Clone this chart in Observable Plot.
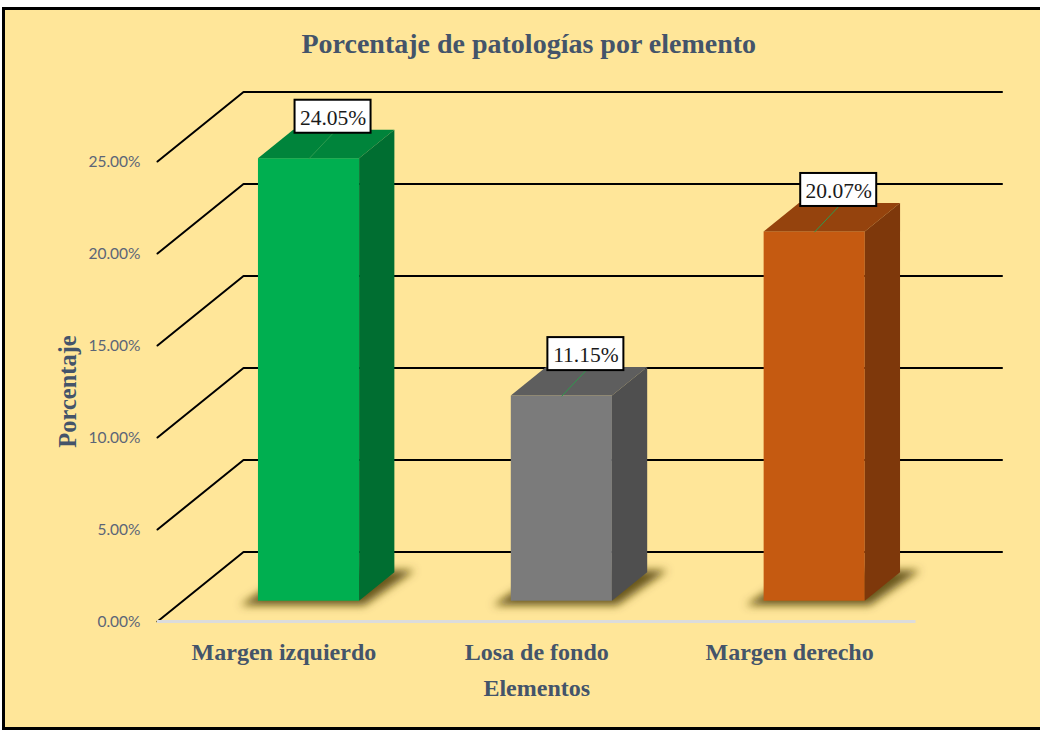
<!DOCTYPE html>
<html><head><meta charset="utf-8">
<script src="https://cdn.jsdelivr.net/npm/d3@7"></script>
<script src="https://cdn.jsdelivr.net/npm/@observablehq/plot@0.6"></script>
<style>
html,body{margin:0;padding:0;background:#fff;overflow:hidden;width:1040px;height:731px;}
#frame{position:absolute;left:2px;top:7px;width:1100px;height:717px;border:3px solid #000;background:#FFE699;}
#chart{position:absolute;left:0;top:0;}
#chart svg{background:transparent;}
</style></head><body>
<div id="frame"></div>
<div id="chart"></div>
<script>
// ---- data ----
const categories = ["Margen izquierdo", "Losa de fondo", "Margen derecho"];
const values = [24.05, 11.15, 20.07];
const valueLabels = ["24.05%", "11.15%", "20.07%"];
const yTicks = [0, 5, 10, 15, 20, 25];
const yTickLabels = ["0.00%", "5.00%", "10.00%", "15.00%", "20.00%", "25.00%"];
const frontColors = ["#00AF50", "#7B7B7B", "#C55A11"];
const topColors = ["#00843B", "#5E5E5E", "#95430D"];
const sideColors = ["#006E31", "#4F4F4F", "#7E380B"];
const title = "Porcentaje de patologías por elemento";
const xTitle = "Elementos";
const yTitle = "Porcentaje";

// ---- 3D geometry (data units) ----
const DX = 0.3402, DY = 3.777;     // full depth of the chart floor
const fF = 0.292, fB = 0.702;      // bar front / back depth fractions
const HW = 0.2;                     // half width of a bar
const fx = fF * DX, fy = fF * DY;
const bx = (fB - fF) * DX, by = (fB - fF) * DY;
const boxOX = 0.095, boxOY = 2.28, boxHW = 0.1503, boxHH = 0.897;

const bars = categories.map((c, i) => {
  const cx = i + 0.5 + fx;
  return {c, i, v: values[i], xl: cx - HW, xr: cx + HW, cx, base: fy, top: values[i] + fy};
});

// quads: two edges per face -> Plot.area (x1,y1)-(x2,y2)
const quad = (id, color, e0, e1) => [
  {id, color, x1: e0[0], y1: e0[1], x2: e0[2], y2: e0[3]},
  {id, color, x1: e1[0], y1: e1[1], x2: e1[2], y2: e1[3]}
];
const sideFaces = bars.flatMap(b => quad("s" + b.i, sideColors[b.i],
  [b.xr, b.base, b.xr, b.top], [b.xr + bx, b.base + by, b.xr + bx, b.top + by]));
const topFaces = bars.flatMap(b => quad("t" + b.i, topColors[b.i],
  [b.xl, b.top, b.xr, b.top], [b.xl + bx, b.top + by, b.xr + bx, b.top + by]));
const shadows = bars.flatMap(b => quad("h" + b.i, "#5A4813",
  [b.xl - 0.07, b.base - 0.25, b.xr + 0.02, b.base - 0.25], [b.xl + bx, b.base + by + 0.1, b.xr + bx + 0.08, b.base + by + 0.1]));

const grid = yTicks.flatMap(t => [
  {t, x: 0, y: t}, {t, x: DX, y: t + DY}, {t, x: 3 + DX, y: t + DY}
]);
const leaders = bars.flatMap(b => [
  {i: b.i, x: b.cx, y: b.top}, {i: b.i, x: b.cx + boxOX, y: b.top + boxOY - boxHH}
]);

const serif = "'Liberation Serif', 'Times New Roman', serif";
const titleColor = "#44546A";

const chart = Plot.plot({
  width: 1040, height: 731,
  marginLeft: 157, marginRight: 124.5, marginTop: 161, marginBottom: 110,
  x: {type: "linear", domain: [0, 3], axis: null},
  y: {type: "linear", domain: [0, 25], axis: null},
  color: {type: "identity"},
  style: {background: "transparent", overflow: "visible"},
  marks: [
    Plot.area(shadows, {x1: "x1", y1: "y1", x2: "x2", y2: "y2", z: "id", fill: "color", fillOpacity: 0.9}),
    Plot.line(grid, {x: "x", y: "y", z: "t", stroke: "#000", strokeWidth: 2, curve: "linear"}),
    Plot.ruleY([0], {stroke: "#DCDCDC", strokeWidth: 3}),
    Plot.rect(bars, {x1: "xl", x2: "xr", y1: "base", y2: "top", fill: (d) => frontColors[d.i]}),
    Plot.area(topFaces, {x1: "x1", y1: "y1", x2: "x2", y2: "y2", z: "id", fill: "color"}),
    Plot.area(sideFaces, {x1: "x1", y1: "y1", x2: "x2", y2: "y2", z: "id", fill: "color"}),
    Plot.line(leaders, {x: "x", y: "y", z: "i", stroke: "#2E9A4E", strokeWidth: 1}),
    Plot.rect(bars, {x1: (d) => d.cx + boxOX - boxHW, x2: (d) => d.cx + boxOX + boxHW,
      y1: (d) => d.top + boxOY - boxHH, y2: (d) => d.top + boxOY + boxHH,
      fill: "#fff", stroke: "#000", strokeWidth: 2}),
    Plot.text(bars, {x: (d) => d.cx + boxOX, y: (d) => d.top + boxOY, text: (d) => valueLabels[d.i],
      fontFamily: serif, fontSize: 21.5, fill: "#1a1a1a", lineAnchor: "middle", dy: 1}),
    Plot.text(yTicks, {y: (d) => d, frameAnchor: "left", text: (d, i) => yTickLabels[i],
      textAnchor: "end", dx: -17, dy: 1, fontFamily: "Lato, 'Liberation Sans', sans-serif", fontSize: 15.5, fill: "#5B6577"}),
    Plot.text(categories, {x: (d, i) => i + 0.5, frameAnchor: "bottom", text: (d) => d, dy: 31,
      fontFamily: serif, fontWeight: "bold", fontSize: 24, fill: titleColor, lineAnchor: "middle", textAnchor: "middle"}),
    Plot.text([xTitle], {frameAnchor: "bottom", text: (d) => d, dy: 67,
      fontFamily: serif, fontWeight: "bold", fontSize: 24, fill: titleColor, lineAnchor: "middle", textAnchor: "middle"}),
    Plot.text([yTitle], {frameAnchor: "left", text: (d) => d, dx: -89, rotate: -90, textAnchor: "middle",
      fontFamily: serif, fontWeight: "bold", fontSize: 24.5, fill: titleColor, lineAnchor: "middle"}),
    Plot.text([title], {frameAnchor: "top", text: (d) => d, dy: -117, dx: -8, textAnchor: "middle",
      fontFamily: serif, fontWeight: "bold", fontSize: 28, fill: titleColor, lineAnchor: "middle"})
  ]
});

const svg = d3.select(chart);
const defs = svg.insert("defs", ":first-child");
const f = defs.append("filter").attr("id", "blurShadow")
  .attr("x", "-50%").attr("y", "-50%").attr("width", "200%").attr("height", "200%");
f.append("feGaussianBlur").attr("stdDeviation", 4);
// the first area group is the shadow mark
svg.select('g[aria-label="area"]').attr("filter", "url(#blurShadow)");
document.getElementById("chart").appendChild(chart);
</script>
</body></html>
